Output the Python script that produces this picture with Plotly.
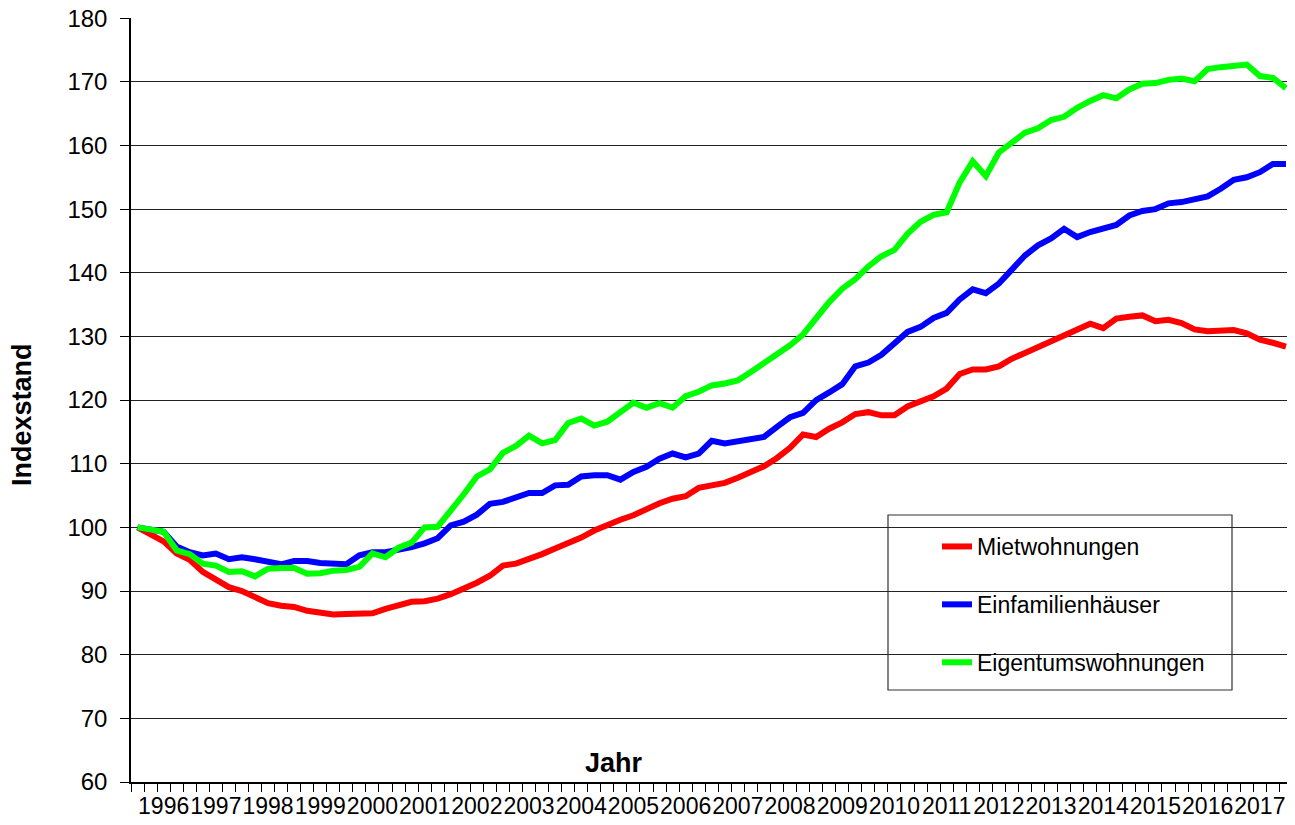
import plotly.graph_objects as go

# Quarterly index values, 1996 Q1 .. 2018 Q1 (1996 Q1 = 100)
quarters = [f"{y}Q{q}" for y in range(1996, 2019) for q in range(1, 5)][:89]

mietwohnungen = [
    100.0, 98.9, 97.8, 95.9, 94.9, 93.0, 91.8, 90.6, 90.0, 89.1,
    88.1, 87.7, 87.5, 86.9, 86.5, 86.3, 86.4, 86.4, 86.5, 87.2,
    87.8, 88.3, 88.4, 88.8, 89.5, 90.3, 91.3, 92.4, 94.0, 94.3,
    95.0, 95.8, 96.7, 97.5, 98.4, 99.5, 100.4, 101.2, 101.9, 102.9,
    103.8, 104.5, 104.9, 106.2, 106.7, 107.0, 107.8, 108.6, 109.6, 110.9,
    112.5, 114.6, 114.2, 115.5, 116.5, 117.8, 118.1, 117.6, 117.6, 119.0,
    119.8, 120.6, 121.8, 124.1, 124.8, 124.8, 125.3, 126.5, 127.4, 128.3,
    129.1, 130.1, 130.9, 132.0, 131.3, 132.8, 133.1, 133.3, 132.4, 132.6,
    132.1, 131.1, 130.8, 131.0, 131.0, 130.5, 129.5, 129.0, 128.4,
]

einfamilienhaeuser = [
    100.0, 99.7, 99.3, 97.0, 96.1, 95.6, 95.9, 95.0, 95.3, 95.0,
    94.7, 94.2, 94.7, 94.7, 94.4, 94.4, 94.2, 95.6, 96.1, 96.1,
    96.4, 96.9, 97.5, 98.3, 100.3, 100.9, 102.0, 103.7, 104.0, 104.7,
    105.4, 105.4, 106.6, 106.7, 108.0, 108.2, 108.2, 107.5, 108.7, 109.5,
    110.8, 111.6, 111.0, 111.6, 113.6, 113.2, 113.5, 113.8, 114.2, 115.8,
    117.3, 118.0, 120.0, 121.2, 122.5, 125.3, 125.9, 127.1, 128.8, 130.7,
    131.5, 132.9, 133.7, 135.8, 137.4, 136.8, 138.3, 140.6, 142.7, 144.3,
    145.4, 146.9, 145.6, 146.4, 146.9, 147.5, 149.0, 149.7, 150.0, 150.9,
    151.1, 151.6, 152.0, 153.2, 154.6, 155.0, 155.8, 157.1, 157.1,
]

eigentumswohnungen = [
    100.0, 99.7, 99.3, 96.4, 95.8, 94.3, 94.0, 93.0, 93.1, 92.3,
    93.5, 93.6, 93.6, 92.7, 92.8, 93.2, 93.3, 93.8, 95.9, 95.3,
    96.8, 97.6, 100.0, 100.1, 102.6, 105.2, 108.0, 109.1, 111.7, 112.8,
    114.4, 113.2, 113.7, 116.4, 117.1, 116.0, 116.6, 118.0, 119.6, 118.8,
    119.5, 118.8, 120.6, 121.3, 122.3, 122.6, 123.1, 124.4, 125.8, 127.4,
    128.6, 130.3, 132.8, 135.4, 137.5, 139.0, 141.0, 142.6, 143.6, 146.1,
    148.0, 149.1, 149.5, 154.2, 157.5, 155.2, 158.9, 160.5, 162.0, 162.7,
    164.0, 164.5, 165.9, 167.0, 167.9, 167.4, 168.8, 169.7, 169.8, 170.3,
    170.5, 170.1, 172.0, 172.3, 172.5, 172.7, 170.9, 170.6, 169.0,
]

year_labels = [str(y) for y in range(1996, 2018)]
y_ticks = list(range(60, 181, 10))

series_names = ["Mietwohnungen", "Einfamilienhäuser", "Eigentumswohnungen"]
series_values = [mietwohnungen, einfamilienhaeuser, eigentumswohnungen]
series_colors = ["#ff0000", "#0000ff", "#00ff00"]

FONT = "Liberation Sans, Arial, sans-serif"

x_idx = list(range(len(quarters)))

fig = go.Figure()
for k, (name, vals, col) in enumerate(zip(series_names, series_values, series_colors)):
    fig.add_trace(go.Scatter(
        x=x_idx, y=vals, mode="lines", name=name,
        line=dict(color=col, width=6),
        legendgroup=f"g{k}",
        customdata=quarters,
        hovertemplate="%{customdata}: %{y}<extra>" + name + "</extra>",
    ))

# page body has an 8px default margin; compensate so the screenshot lines up
OFF = 8
W, H = 1295 - 2 * OFF, 825 - OFF
L, R, T, B = 131 - OFF, 0, 18 - OFF, 43
pw, ph = W - L - R, H - T - B

def px_x(p):  # screen pixel -> paper fraction
    return (p - OFF - L) / pw

def px_y(p):
    return (H - B - (p - OFF)) / ph

fig.update_layout(
    width=W, height=H,
    margin=dict(l=L, r=R, t=T, b=B, pad=0, autoexpand=False),
    paper_bgcolor="white", plot_bgcolor="white",
    font=dict(family=FONT, size=24, color="black"),
    showlegend=True,
    legend=dict(
        x=px_x(937), y=px_y(525), xanchor="left", yanchor="top",
        bgcolor="rgba(0,0,0,0)", borderwidth=0,
        font=dict(family=FONT, size=23, color="black"),
        tracegroupgap=25, traceorder="grouped",
    ),
    xaxis=dict(
        range=[-0.5, 88.08],
        tickmode="array",
        tickvals=[2 + 4 * k for k in range(len(year_labels))],
        ticktext=year_labels,
        ticks="", tickangle=0, ticklabeloverflow="allow",
        tickfont=dict(family=FONT, size=23, color="black"),
        showgrid=False, zeroline=False, automargin=False,
        showline=True, linecolor="black", linewidth=1.5,
        minor=dict(tickmode="linear", tick0=-0.5, dtick=1, ticks="outside",
                   ticklen=8, tickcolor="black", tickwidth=1, showgrid=False),
        ticklabelstandoff=3,
    ),
    yaxis=dict(
        range=[60, 180.02], tickmode="array", tickvals=y_ticks,
        ticktext=[str(v) for v in y_ticks],
        ticks="outside", ticklen=9, tickcolor="black", tickwidth=1,
        tickfont=dict(family=FONT, size=24, color="black"),
        showgrid=True, gridcolor="#222222", gridwidth=1.3,
        zeroline=False, automargin=False, ticklabeloverflow="allow",
        showline=True, linecolor="black", linewidth=1.5,
        ticklabelstandoff=8,
    ),
    shapes=[dict(
        type="rect", xref="paper", yref="paper",
        x0=px_x(888), x1=px_x(1232), y0=px_y(690), y1=px_y(515),
        line=dict(color="#333333", width=1.2), fillcolor="white", layer="between",
    )],
    annotations=[
        dict(text="<b>Jahr</b>", xref="paper", yref="paper",
             x=px_x(614), y=px_y(763), showarrow=False,
             font=dict(family=FONT, size=27, color="black"),
             xanchor="center", yanchor="middle"),
        dict(text="<b>Indexstand</b>", xref="paper", yref="paper",
             x=px_x(22), y=px_y(415), showarrow=False, textangle=-90,
             font=dict(family=FONT, size=27, color="black"),
             xanchor="center", yanchor="middle"),
    ],
)

fig.write_html("out.html")
